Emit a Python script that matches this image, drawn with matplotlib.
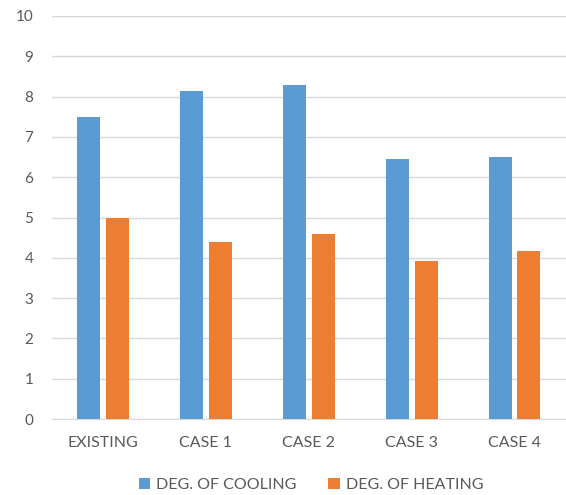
import numpy as np
import matplotlib.pyplot as plt

categories = ["EXISTING", "CASE 1", "CASE 2", "CASE 3", "CASE 4"]
cooling = [7.5, 8.15, 8.3, 6.45, 6.5]
heating = [5.0, 4.4, 4.6, 3.92, 4.18]
series_names = ["DEG. OF COOLING", "DEG. OF HEATING"]

BLUE = "#5b9bd5"
ORANGE = "#ed7d31"
GRID = "#d9d9d9"
TEXT = "#595959"

plt.rcParams["font.family"] = ["Lato", "DejaVu Sans"]

fig = plt.figure(figsize=(5.66, 4.95), dpi=100)
ax = fig.add_axes([0.091, 0.1535, 0.909, 0.8142])

x = np.arange(len(categories))
width = 0.223
offset = 0.14
ax.bar(x - offset, cooling, width, color=BLUE, label=series_names[0], zorder=3)
ax.bar(x + offset, heating, width, color=ORANGE, label=series_names[1], zorder=3)

ax.set_xlim(-0.5, len(categories) - 0.5)
ax.set_ylim(0, 10)
ax.set_yticks(range(0, 11))
ax.set_xticks(x)
ax.set_xticklabels(categories)
ax.yaxis.grid(True, color=GRID, linewidth=1.0, zorder=0)
ax.tick_params(axis="both", length=0, colors=TEXT)
ax.tick_params(axis="y", pad=13, labelsize=11)
ax.tick_params(axis="x", pad=12, labelsize=11.5)
for side in ["top", "right", "left"]:
    ax.spines[side].set_visible(False)
ax.spines["bottom"].set_color(GRID)

fig.legend(loc="center", bbox_to_anchor=(311 / 566, 1 - 485 / 495), ncol=2,
           frameon=False, handlelength=0.7, handleheight=0.7, handletextpad=0.4,
           columnspacing=2.0, fontsize=11.5, labelcolor=TEXT)

fig.savefig("out.png", dpi=100)
